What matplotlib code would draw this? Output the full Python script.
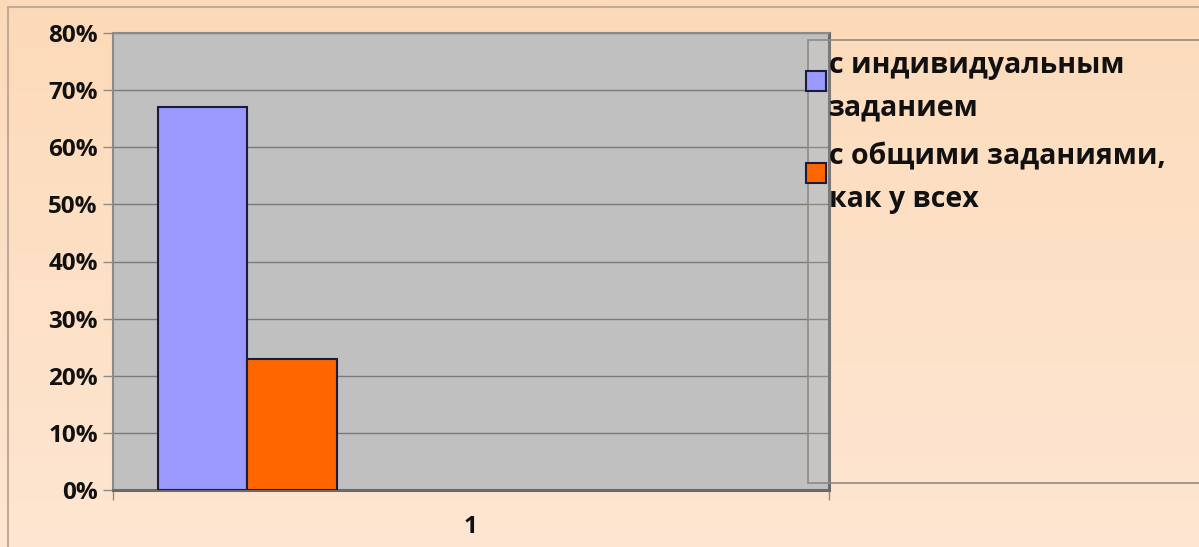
import numpy as np
import matplotlib
matplotlib.use("Agg")
import matplotlib.pyplot as plt
from matplotlib.patches import Patch, Rectangle
from matplotlib.colors import LinearSegmentedColormap
from matplotlib.legend_handler import HandlerPatch

# --- data -------------------------------------------------------------
categories = ["1"]
series_names = ["с индивидуальным\nзаданием", "с общими заданиями,\nкак у всех"]
series_values = [67, 23]          # percent
series_colors = ["#9999FF", "#FF6600"]
y_ticks = [0, 10, 20, 30, 40, 50, 60, 70, 80]
y_tick_labels = [f"{v}%" for v in y_ticks]

# --- layout -----------------------------------------------------------
W, H, DPI = 1199, 547, 100
n_slots = 7            # bar slots per category (gap of one slot split on both sides)
slot = 1.0 / (n_slots + 1)

plt.rcParams["font.family"] = ["Open Sans", "DejaVu Sans"]
plt.rcParams["font.weight"] = "bold"

fig = plt.figure(figsize=(W / DPI, H / DPI), dpi=DPI)
fig.patch.set_facecolor("#FEE3CB")

# warm vertical gradient behind the chart
bg = fig.add_axes([0, 0, 1, 1], zorder=-10)
grad = np.linspace(0, 1, 256).reshape(-1, 1)
cmap = LinearSegmentedColormap.from_list("bg", ["#FEE6D2", "#FCDAB8"])
bg.imshow(grad, aspect="auto", cmap=cmap, origin="lower", extent=[0, 1, 0, 1])
bg.set_axis_off()

# chart outer frame
fig.patches.append(Rectangle((8 / W, -0.2), 1.2, 1 - 7 / H + 0.2,
                             transform=fig.transFigure, fill=False,
                             edgecolor="#C2A896", linewidth=1.5, zorder=-5))

# plot area
x0, x1 = 113, 829
y_top, y_bot = 33, 490
ax = fig.add_axes([x0 / W, 1 - y_bot / H, (x1 - x0) / W, (y_bot - y_top) / H])
ax.set_facecolor("#C0C0C0")

cat_pos = np.arange(len(categories), dtype=float)
handles = []
for i, (name, val, col) in enumerate(zip(series_names, series_values, series_colors)):
    offset = -0.5 + slot / 2 + (i + 0.5) * slot
    ax.bar(cat_pos + offset, [val], width=slot, color=col,
           edgecolor="#1C1C3A", linewidth=1.5, zorder=3)
    handles.append(Patch(facecolor=col, edgecolor="#1C1C3A", linewidth=1.5, label=name))

ax.set_xlim(-0.5, len(categories) - 0.5)
ax.set_ylim(0, 80)
ax.set_yticks(y_ticks)
ax.set_yticklabels(y_tick_labels)
ax.yaxis.grid(True, color="#7A7A7A", linewidth=1.0, zorder=1)
ax.set_axisbelow(True)

ax.set_xticks(cat_pos)
ax.set_xticklabels(categories)
ax.set_xticks(np.arange(len(categories) + 1) - 0.5, minor=True)
ax.tick_params(axis="x", which="major", length=0, pad=18, labelsize=17.5, labelcolor="#111111")
ax.tick_params(axis="x", which="minor", length=7, width=1, color="#8C8C8C", direction="out")
ax.tick_params(axis="y", length=7, width=1, color="#8C8C8C", pad=4,
               labelsize=17.5, labelcolor="#111111")
for lab in ax.get_xticklabels() + ax.get_yticklabels():
    lab.set_fontweight("bold")

for side in ("left", "top"):
    ax.spines[side].set_color("#8A8A8A")
    ax.spines[side].set_linewidth(1.5)
for side in ("right", "bottom"):
    ax.spines[side].set_color("#6A6A6A")
    ax.spines[side].set_linewidth(2.2)

# legend box extending past the right edge
fig.patches.append(Rectangle((808 / W, 1 - 483 / H), 0.5, (483 - 40) / H,
                             transform=fig.transFigure,
                             facecolor=(1.0, 0.92, 0.85, 0.12),
                             edgecolor="#8E8A84", linewidth=1.2, zorder=5))


def raised_square(legend, orig_handle, xdescent, ydescent, width, height, fontsize):
    # legend key sits a little above the middle of its two-line label
    return Rectangle((-xdescent, -ydescent + 4.5), width, height)


leg = fig.legend(handles=handles, loc="upper left",
                 bbox_to_anchor=(806 / W, 1 - 51 / H),
                 frameon=False, borderpad=0, borderaxespad=0,
                 handlelength=0.7, handleheight=0.7, handletextpad=0.1,
                 labelspacing=0.72, prop={"weight": "bold", "size": 20.5},
                 handler_map={Patch: HandlerPatch(patch_func=raised_square)})
leg.set_zorder(6)
for t in leg.get_texts():
    t.set_linespacing(1.6)
    t.set_color("#111111")

fig.savefig("out.png", dpi=DPI)
